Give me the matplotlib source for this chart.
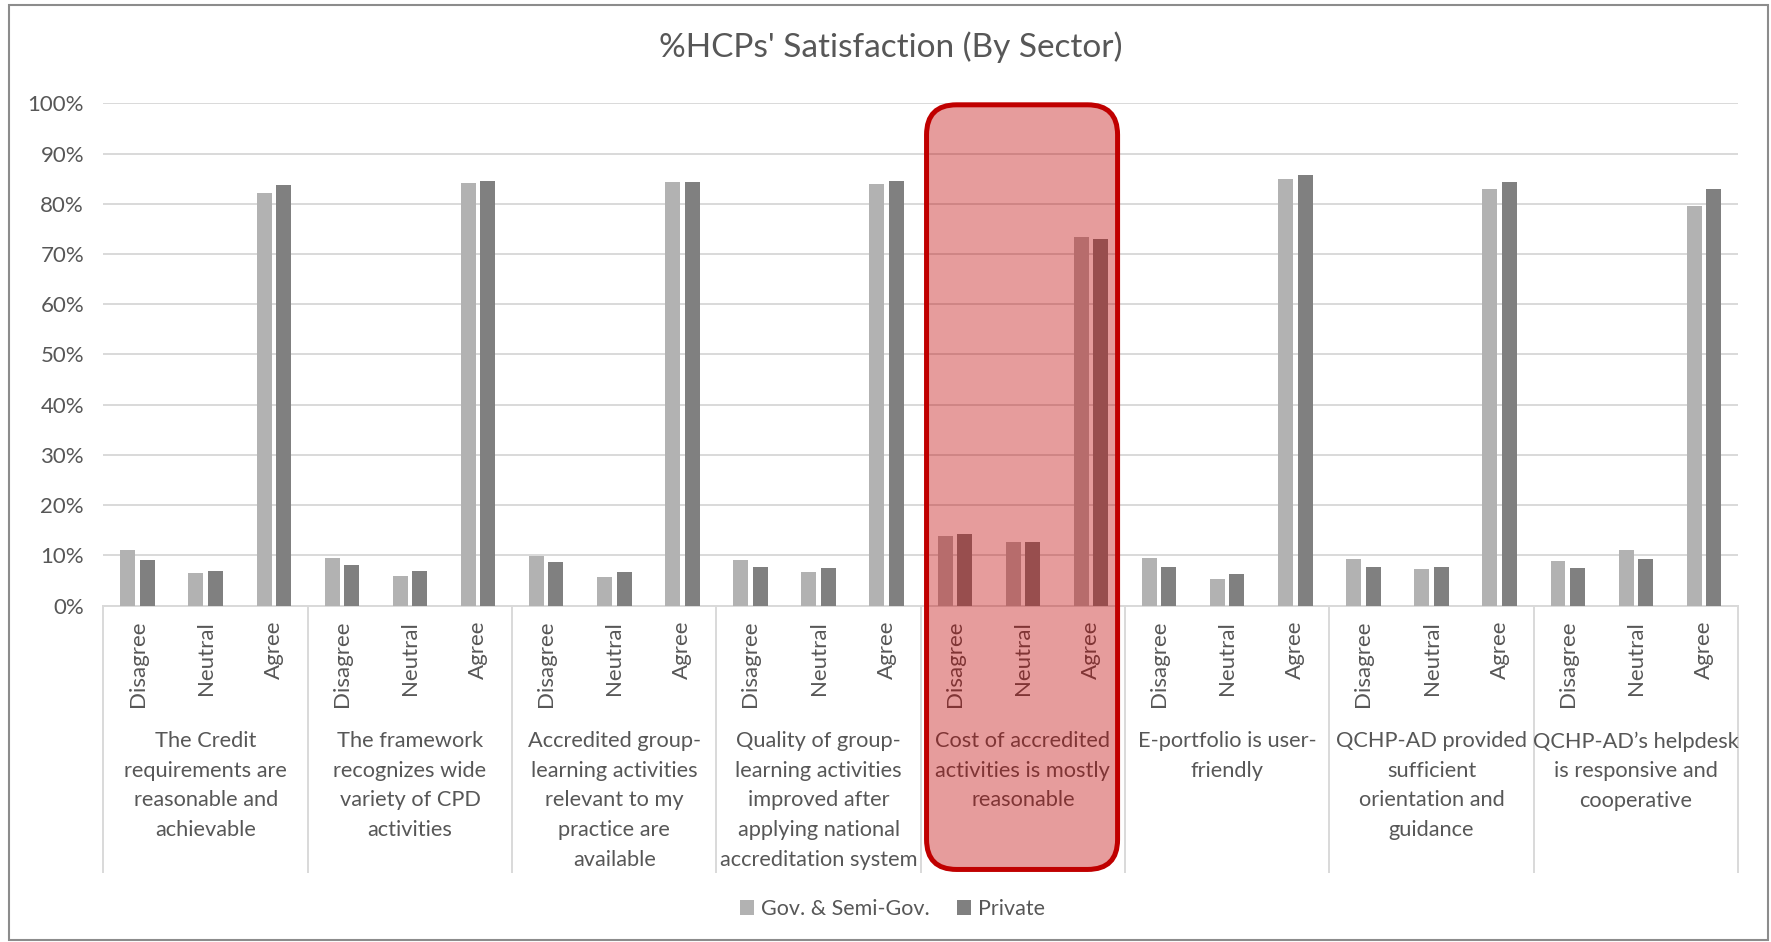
import numpy as np
import matplotlib.pyplot as plt
import matplotlib.transforms as mtransforms
from matplotlib.patches import Patch, FancyBboxPatch, Rectangle
from matplotlib.ticker import PercentFormatter

plt.rcParams['font.family'] = ['Lato', 'DejaVu Sans']

# data (percent)
groups = [
    "The Credit\nrequirements are\nreasonable and\nachievable",
    "The framework\nrecognizes wide\nvariety of CPD\nactivities",
    "Accredited group-\nlearning activities\nrelevant to my\npractice are\navailable",
    "Quality of group-\nlearning activities\nimproved after\napplying national\naccreditation system",
    "Cost of accredited\nactivities is mostly\nreasonable",
    "E-portfolio is user-\nfriendly",
    "QCHP-AD provided\nsufficient\norientation and\nguidance",
    "QCHP-AD\u2019s helpdesk\nis responsive and\ncooperative",
]
responses = ["Disagree", "Neutral", "Agree"]
series = ["Gov. & Semi-Gov.", "Private"]

gov = [11.0, 6.5, 82.1, 9.5, 6.0, 84.1, 9.9, 5.7, 84.3, 9.0, 6.7, 84.0,
       13.9, 12.6, 73.3, 9.5, 5.3, 84.9, 9.3, 7.3, 83.0, 8.9, 11.1, 79.5]
private = [9.1, 6.9, 83.7, 8.2, 6.9, 84.6, 8.7, 6.7, 84.3, 7.8, 7.5, 84.5,
           14.2, 12.7, 72.9, 7.7, 6.3, 85.8, 7.8, 7.7, 84.3, 7.5, 9.2, 82.9]
highlight_group = 4

txt = '#575757'
grid_c = '#D9D9D9'
c_gov = '#B2B2B2'
c_priv = '#808080'

fig = plt.figure(figsize=(17.71, 9.42), dpi=100)
ax = fig.add_axes([0.05844, 0.35701, 0.92293, 0.53333])

x = np.arange(len(gov))
ax.bar(x - 0.143, gov, 0.22, color=c_gov, zorder=3)
ax.bar(x + 0.143, private, 0.22, color=c_priv, zorder=3)

ax.set_xlim(-0.5, len(gov) - 0.5)
ax.set_ylim(0, 100)
ax.set_yticks(range(0, 101, 10))
ax.yaxis.set_major_formatter(PercentFormatter(decimals=0))
ax.tick_params(axis='y', length=0, pad=14, labelsize=16, labelcolor=txt)
ax.set_xticks([])
ax.grid(axis='y', color=grid_c, lw=1.4)
ax.set_axisbelow(True)
for s in ['left', 'right', 'top']:
    ax.spines[s].set_visible(False)
ax.spines['bottom'].set_color(grid_c)
ax.spines['bottom'].set_linewidth(1.4)

# two-level category axis
trans = mtransforms.blended_transform_factory(ax.transData, ax.transAxes)
for b in np.arange(-0.5, len(gov), 3):
    ax.plot([b, b], [0, -0.5295], transform=trans, color=grid_c, lw=1.4,
            clip_on=False)
for i in x:
    ax.text(i, -0.030, responses[i % 3], rotation=90, ha='center', va='top',
            transform=trans, fontsize=16, color=txt)
for g, lab in enumerate(groups):
    ax.text(g * 3 + 1, -0.250, lab, ha='center', va='top', transform=trans,
            fontsize=15.7, color=txt, linespacing=1.6)

fig.text(0.503, 1 - 47 / 942, "%HCPs' Satisfaction (By Sector)", ha='center',
         va='center', fontsize=24, color=txt)

fig.legend(handles=[Patch(fc=c_gov), Patch(fc=c_priv)], labels=series,
           loc='center', bbox_to_anchor=(0.504, 0.035), ncol=2, frameon=False,
           fontsize=15.5, handlelength=0.65, handleheight=0.65,
           handletextpad=0.3, columnspacing=1.3, labelcolor=txt)

# red rounded highlight over one group
g0 = highlight_group * 3 - 0.5
p0 = trans.transform((g0 + 0.085, -0.525)) / fig.dpi
p1 = trans.transform((g0 + 2.89, 0.997)) / fig.dpi
box = FancyBboxPatch(p0, p1[0] - p0[0], p1[1] - p0[1],
                     boxstyle='round,pad=0,rounding_size=0.3',
                     transform=fig.dpi_scale_trans,
                     facecolor=(0.753, 0, 0, 0.39), edgecolor='#C00000',
                     lw=3.6, zorder=10)
fig.add_artist(box)

# outer chart border
fig.add_artist(Rectangle((9 / 1771, 2 / 942), 1759 / 1771, 935 / 942,
                         transform=fig.transFigure, fill=False,
                         ec='#8C8C8C', lw=1.5, zorder=0))

fig.savefig('out.png', dpi=100)
